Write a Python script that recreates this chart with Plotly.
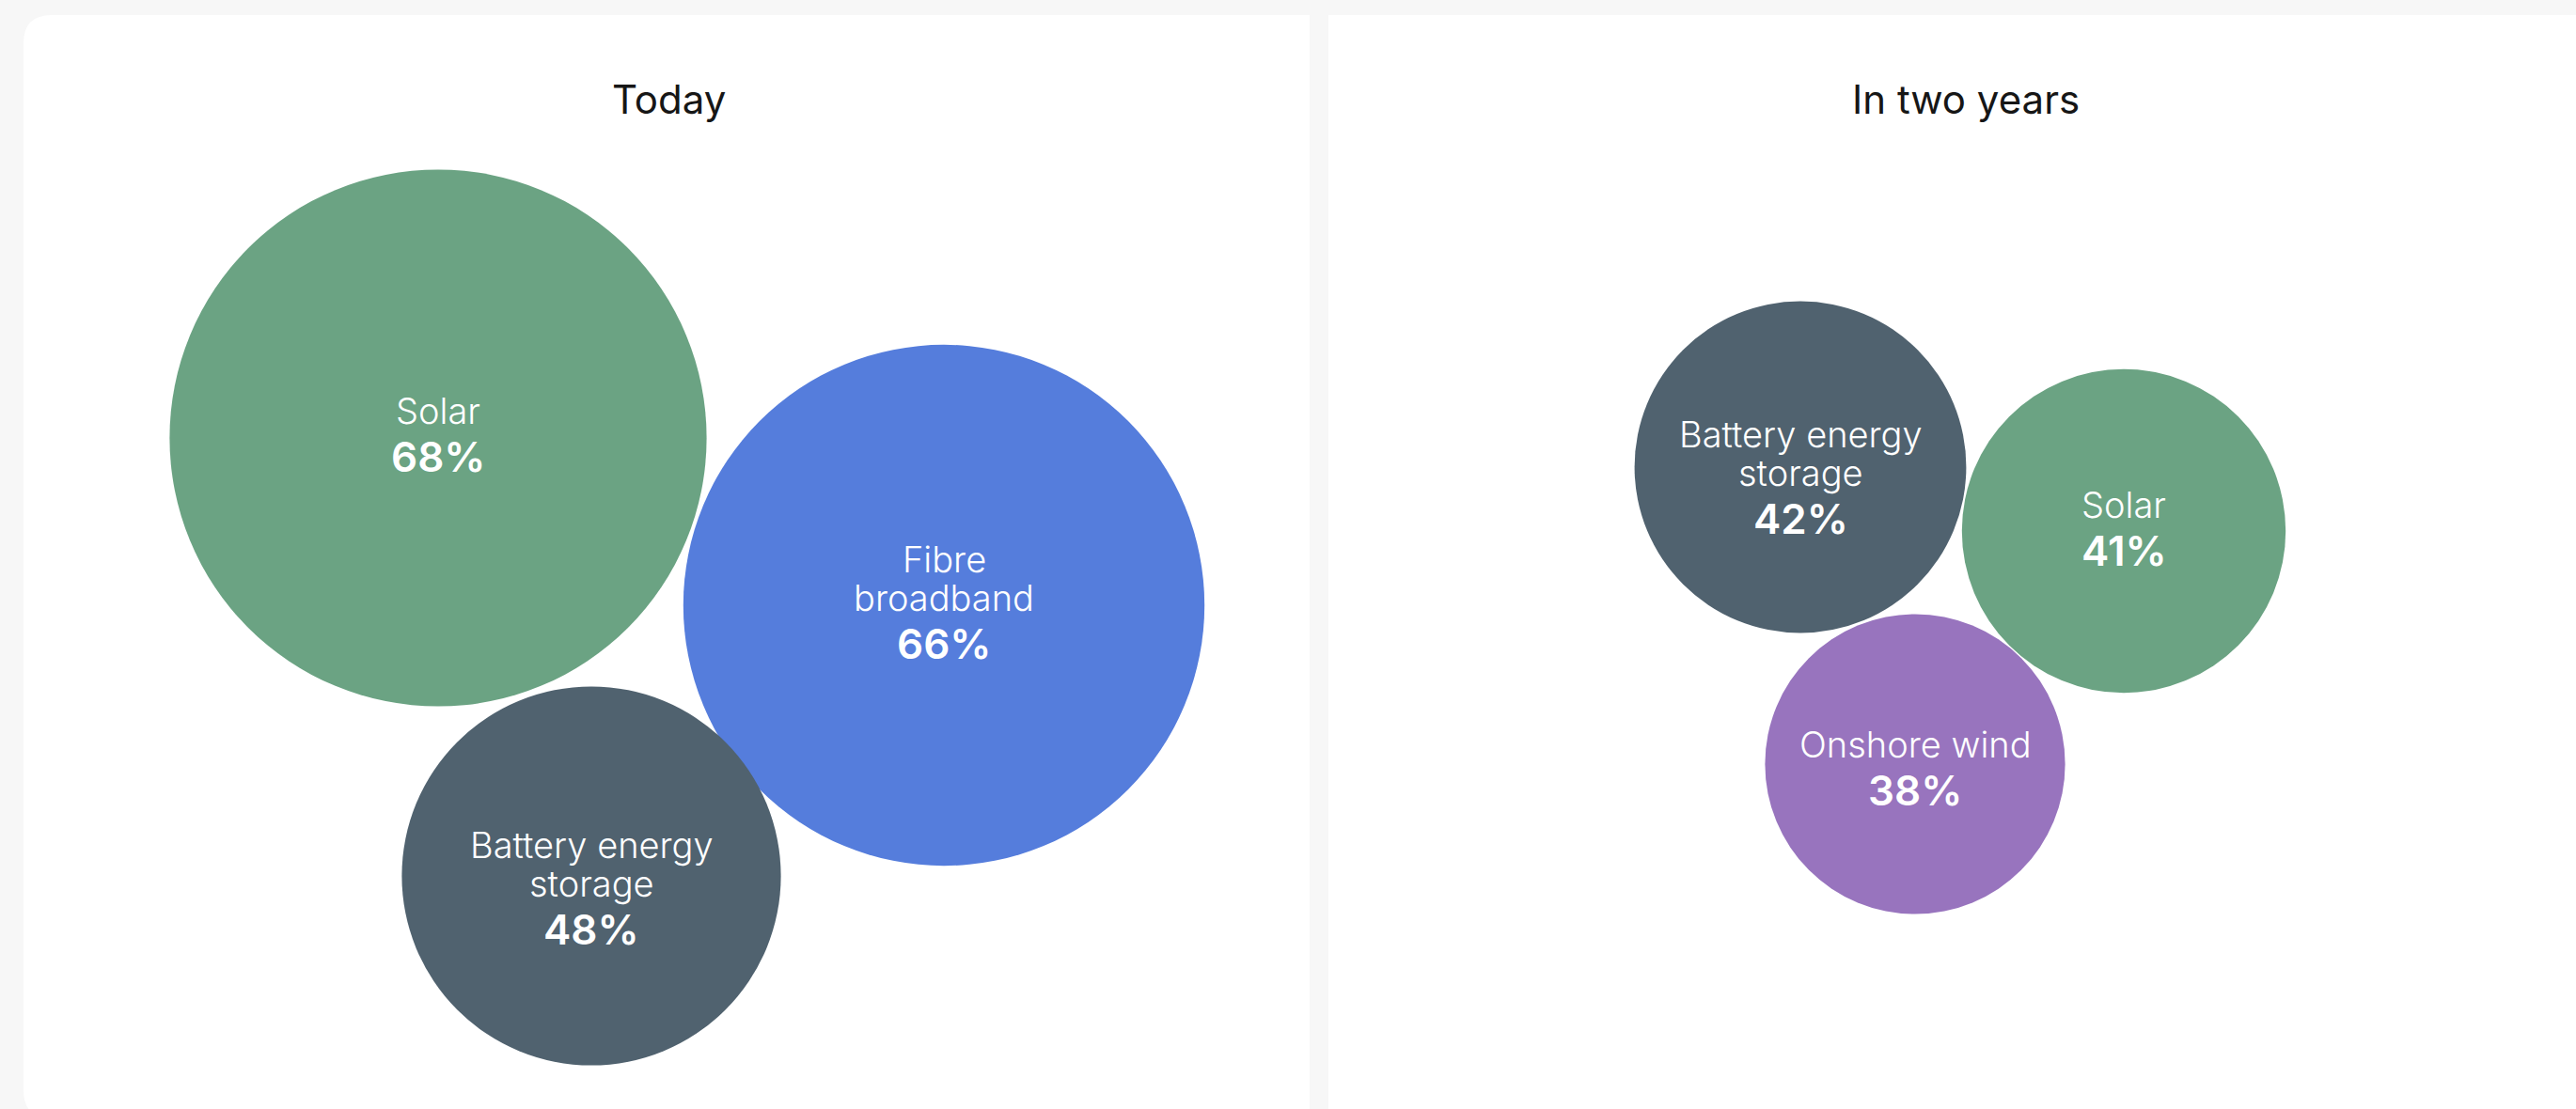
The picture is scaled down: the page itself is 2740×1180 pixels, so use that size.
import plotly.graph_objects as go

# ---- data -------------------------------------------------------------
today_labels = ["Solar", "Fibre broadband", "Battery energy storage"]
today_values = [68, 66, 48]

future_labels = ["Battery energy storage", "Solar", "Onshore wind"]
future_values = [42, 41, 38]

panel_titles = ["Today", "In two years"]

# ---- styling / layout constants --------------------------------------
W, H = 2740, 1180
PAGE_BG = "#f7f7f7"
PANEL_BG = "#ffffff"
TITLE_COLOR = "#161616"
FONT = "Inter, 'Noto Sans', sans-serif"

COLORS = {
    "Solar": "#6ba383",
    "Fibre broadband": "#557ddc",
    "Battery energy storage": "#50626f",
    "Onshore wind": "#9874be",
}
# how each category name is broken onto lines inside its bubble
WRAP = {
    "Solar": ["Solar"],
    "Fibre broadband": ["Fibre", "broadband"],
    "Battery energy storage": ["Battery energy", "storage"],
    "Onshore wind": ["Onshore wind"],
}
# packed bubble centres (pixel space) and vertical offset of the % line
TODAY_CENTERS = [(466, 466), (1004, 644), (629, 932)]
TODAY_PCT_DY = [20, 41, 57]
FUTURE_CENTERS = [(1915, 497), (2259, 565), (2037, 813)]
FUTURE_PCT_DY = [55, 21, 28]
PX_PER_POINT = 8.4  # bubble diameter in px per percentage point

LEFT_PANEL = (25, 16, 1393, 1190)
RIGHT_PANEL = (1413, 16, 2800, 1190)
TITLE_CENTERS = [711, 2091]
TITLE_Y = 105

fig = go.Figure()


def add_group(labels, values, centers, pct_dy):
    xs = [c[0] for c in centers]
    ys = [c[1] for c in centers]
    fig.add_trace(go.Scatter(
        x=xs, y=ys, mode="markers",
        marker=dict(
            size=values, sizemode="diameter", sizeref=1 / PX_PER_POINT,
            color=[COLORS[l] for l in labels], line=dict(width=0), opacity=1,
        ),
        hoverinfo="skip", showlegend=False, cliponaxis=False,
    ))
    for lab, val, (cx, cy), dy in zip(labels, values, centers, pct_dy):
        lines = WRAP[lab]
        pct_y = cy + dy
        fig.add_annotation(
            x=cx, y=pct_y, text=f"{val}%", showarrow=False,
            xanchor="center", yanchor="middle",
            font=dict(family=FONT, size=44, color="#ffffff", weight=600),
        )
        for i, line in enumerate(lines):
            ly = pct_y - 49 - 41 * (len(lines) - 1 - i)
            fig.add_annotation(
                x=cx, y=ly, text=line, showarrow=False,
                xanchor="center", yanchor="middle",
                font=dict(family=FONT, size=38, color="#ffffff", weight=300),
            )


add_group(today_labels, today_values, TODAY_CENTERS, TODAY_PCT_DY)
add_group(future_labels, future_values, FUTURE_CENTERS, FUTURE_PCT_DY)

# ---- panel cards ------------------------------------------------------
r = 30
x0, y0, x1, y1 = LEFT_PANEL
left_path = (f"M {x1},{y0} L {x0 + r},{y0} Q {x0},{y0} {x0},{y0 + r} "
             f"L {x0},{y1 - r} Q {x0},{y1} {x0 + r},{y1} L {x1},{y1} Z")
fig.add_shape(type="path", path=left_path, xref="x", yref="y",
              fillcolor=PANEL_BG, line=dict(width=0), layer="below")
rx0, ry0, rx1, ry1 = RIGHT_PANEL
fig.add_shape(type="rect", x0=rx0, y0=ry0, x1=rx1, y1=ry1, xref="x", yref="y",
              fillcolor=PANEL_BG, line=dict(width=0), layer="below")

for title, tx in zip(panel_titles, TITLE_CENTERS):
    fig.add_annotation(
        x=tx, y=TITLE_Y, text=title, showarrow=False,
        xanchor="center", yanchor="middle",
        font=dict(family=FONT, size=42, color=TITLE_COLOR),
    )

fig.update_layout(
    width=W, height=H,
    margin=dict(l=0, r=0, t=0, b=0),
    paper_bgcolor=PAGE_BG, plot_bgcolor=PAGE_BG,
    xaxis=dict(range=[0, W], visible=False, fixedrange=True),
    yaxis=dict(range=[H, 0], visible=False, fixedrange=True),
    showlegend=False,
)

fig.write_html("out.html", config={"displayModeBar": False})
